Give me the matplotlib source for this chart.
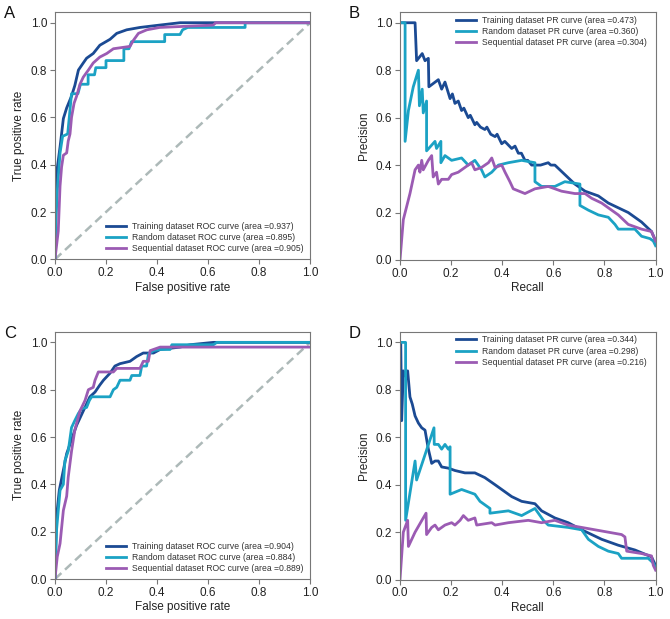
import numpy as np
import matplotlib
matplotlib.use('Agg')
import matplotlib.pyplot as plt

plt.rcParams['font.family'] = ['Liberation Sans', 'DejaVu Sans']

# Farben der drei Datensaetze
c_train = '#1b4a93'
c_rand = '#1ba2c4'
c_seq = '#9b5bb3'
c_diag = '#adb9b8'

# --- Panel A: ROC (oben) ---
a_train_fpr = [0, 0.006, 0.02, 0.033, 0.046, 0.065, 0.078, 0.092, 0.111, 0.124,
               0.15, 0.176, 0.216, 0.242, 0.281, 0.333, 0.41, 0.49, 0.62, 1.0]
a_train_tpr = [0, 0.36, 0.475, 0.595, 0.64, 0.69, 0.735, 0.80, 0.83, 0.85,
               0.87, 0.905, 0.93, 0.955, 0.97, 0.98, 0.99, 1.0, 1.0, 1.0]
a_rand_fpr = [0, 0.005, 0.01, 0.02, 0.03, 0.05, 0.065, 0.09, 0.10, 0.13,
              0.13, 0.155, 0.16, 0.2, 0.2, 0.27, 0.27, 0.29, 0.30, 0.43,
              0.43, 0.49, 0.50, 0.52, 0.745, 0.745, 1.0]
a_rand_tpr = [0, 0.19, 0.3, 0.45, 0.52, 0.53, 0.70, 0.70, 0.74, 0.74,
              0.78, 0.78, 0.81, 0.81, 0.84, 0.84, 0.89, 0.89, 0.92, 0.92,
              0.95, 0.95, 0.97, 0.98, 0.98, 1.0, 1.0]
a_seq_fpr = [0, 0.013, 0.02, 0.026, 0.033, 0.046, 0.052, 0.059, 0.065, 0.075,
             0.085, 0.098, 0.111, 0.131, 0.15, 0.176, 0.203, 0.229, 0.294, 0.307,
             0.327, 0.36, 0.41, 0.62, 0.63, 1.0]
a_seq_tpr = [0, 0.12, 0.31, 0.39, 0.44, 0.45, 0.50, 0.53, 0.60, 0.66,
             0.69, 0.74, 0.77, 0.80, 0.83, 0.855, 0.87, 0.89, 0.90, 0.925,
             0.955, 0.97, 0.98, 0.99, 1.0, 1.0]
a_auc = [0.937, 0.895, 0.905]

# --- Panel B: PR (oben) ---
b_train_rec = [0, 0.059, 0.065, 0.087, 0.098, 0.111, 0.113, 0.15, 0.163, 0.176,
               0.196, 0.205, 0.215, 0.228, 0.241, 0.25, 0.267, 0.275, 0.293, 0.30,
               0.315, 0.332, 0.34, 0.355, 0.372, 0.38, 0.398, 0.41, 0.437, 0.45,
               0.463, 0.475, 0.489, 0.50, 0.515, 0.55, 0.58, 0.59, 0.606, 0.645,
               0.684, 0.724, 0.776, 0.815, 0.893, 0.945, 0.984, 1.0]
b_train_prec = [1.0, 1.0, 0.84, 0.87, 0.84, 0.85, 0.73, 0.76, 0.72, 0.75,
                0.68, 0.70, 0.66, 0.67, 0.63, 0.64, 0.60, 0.61, 0.57, 0.58,
                0.56, 0.55, 0.56, 0.53, 0.52, 0.53, 0.49, 0.50, 0.47, 0.48,
                0.45, 0.45, 0.42, 0.42, 0.40, 0.40, 0.41, 0.40, 0.40, 0.36,
                0.32, 0.29, 0.27, 0.24, 0.20, 0.16, 0.12, 0.08]
b_rand_rec = [0, 0.02, 0.02, 0.033, 0.052, 0.072, 0.076, 0.087, 0.091, 0.104,
              0.104, 0.137, 0.143, 0.16, 0.16, 0.176, 0.202, 0.241, 0.267, 0.293,
              0.319, 0.332, 0.359, 0.385, 0.424, 0.476, 0.528, 0.528, 0.554, 0.606,
              0.645, 0.704, 0.704, 0.737, 0.776, 0.815, 0.841, 0.854, 0.919, 0.945,
              0.978, 0.991, 1.0]
b_rand_prec = [1.0, 1.0, 0.5, 0.63, 0.73, 0.8, 0.65, 0.72, 0.62, 0.67,
               0.46, 0.5, 0.47, 0.5, 0.41, 0.44, 0.42, 0.43, 0.40, 0.42,
               0.38, 0.35, 0.37, 0.40, 0.41, 0.42, 0.41, 0.33, 0.31, 0.31,
               0.33, 0.32, 0.23, 0.21, 0.19, 0.18, 0.15, 0.13, 0.13, 0.10,
               0.09, 0.08, 0.06]
b_seq_rec = [0, 0.013, 0.039, 0.059, 0.072, 0.078, 0.085, 0.091, 0.111, 0.124,
             0.13, 0.143, 0.15, 0.163, 0.189, 0.202, 0.228, 0.254, 0.28, 0.293,
             0.319, 0.346, 0.359, 0.372, 0.398, 0.411, 0.43, 0.443, 0.489, 0.528,
             0.58, 0.632, 0.684, 0.724, 0.75, 0.789, 0.815, 0.854, 0.893, 0.945,
             0.984, 1.0]
b_seq_prec = [0, 0.17, 0.28, 0.38, 0.40, 0.37, 0.42, 0.38, 0.42, 0.44,
              0.35, 0.37, 0.32, 0.34, 0.34, 0.36, 0.37, 0.39, 0.41, 0.38,
              0.39, 0.41, 0.43, 0.39, 0.40, 0.37, 0.33, 0.30, 0.28, 0.30,
              0.31, 0.29, 0.28, 0.28, 0.26, 0.24, 0.22, 0.19, 0.15, 0.13,
              0.12, 0.08]
b_auc = [0.473, 0.360, 0.304]

# --- Panel C: ROC (unten) ---
c_train_fpr = [0, 0.006, 0.017, 0.033, 0.046, 0.059, 0.072, 0.085, 0.098, 0.111,
               0.124, 0.137, 0.157, 0.176, 0.19, 0.216, 0.235, 0.255, 0.294, 0.32,
               0.346, 0.386, 0.412, 0.49, 0.529, 0.621, 1.0]
c_train_tpr = [0, 0.26, 0.375, 0.46, 0.53, 0.57, 0.61, 0.65, 0.68, 0.71,
               0.74, 0.77, 0.79, 0.82, 0.84, 0.87, 0.90, 0.91, 0.92, 0.94,
               0.955, 0.955, 0.97, 0.98, 0.99, 1.0, 1.0]
c_rand_fpr = [0, 0.0065, 0.02, 0.033, 0.039, 0.052, 0.065, 0.078, 0.092, 0.105,
              0.124, 0.135, 0.144, 0.216, 0.229, 0.242, 0.255, 0.294, 0.301, 0.333,
              0.34, 0.359, 0.366, 0.386, 0.412, 0.451, 0.458, 0.621, 0.634, 1.0]
c_rand_tpr = [0, 0.21, 0.375, 0.40, 0.50, 0.54, 0.64, 0.67, 0.70, 0.72,
              0.725, 0.755, 0.77, 0.77, 0.80, 0.81, 0.84, 0.84, 0.86, 0.86,
              0.90, 0.90, 0.95, 0.965, 0.97, 0.97, 0.99, 0.99, 1.0, 1.0]
c_seq_fpr = [0, 0.009, 0.02, 0.033, 0.046, 0.052, 0.065, 0.078, 0.098, 0.118,
             0.131, 0.15, 0.157, 0.17, 0.229, 0.242, 0.333, 0.346, 0.366, 0.373,
             0.412, 1.0]
c_seq_tpr = [0, 0.094, 0.15, 0.29, 0.35, 0.43, 0.54, 0.63, 0.71, 0.755,
             0.80, 0.81, 0.84, 0.875, 0.875, 0.89, 0.89, 0.92, 0.92, 0.965,
             0.98, 0.98]
c_auc = [0.904, 0.884, 0.889]

# --- Panel D: PR (unten) ---
d_train_rec = [0, 0.003, 0.0065, 0.013, 0.026, 0.03, 0.039, 0.048, 0.059, 0.072,
               0.085, 0.098, 0.111, 0.124, 0.137, 0.15, 0.163, 0.189, 0.215, 0.254,
               0.293, 0.332, 0.372, 0.398, 0.437, 0.476, 0.528, 0.554, 0.606, 0.658,
               0.711, 0.789, 0.854, 0.919, 0.984, 1.0]
d_train_prec = [1.0, 1.0, 0.67, 0.88, 0.85, 0.88, 0.77, 0.74, 0.69, 0.66,
                0.64, 0.63, 0.55, 0.49, 0.50, 0.50, 0.475, 0.47, 0.46, 0.45,
                0.45, 0.43, 0.40, 0.38, 0.35, 0.33, 0.32, 0.29, 0.26, 0.24,
                0.21, 0.17, 0.145, 0.125, 0.096, 0.06]
d_rand_rec = [0, 0.0065, 0.022, 0.022, 0.059, 0.065, 0.133, 0.134, 0.15, 0.163,
              0.176, 0.189, 0.196, 0.196, 0.241, 0.293, 0.313, 0.352, 0.352, 0.424,
              0.476, 0.528, 0.561, 0.58, 0.658, 0.711, 0.737, 0.776, 0.815, 0.854,
              0.867, 0.971, 0.991, 1.0]
d_rand_prec = [1.0, 1.0, 1.0, 0.25, 0.50, 0.42, 0.64, 0.57, 0.57, 0.55,
               0.57, 0.55, 0.56, 0.36, 0.38, 0.36, 0.33, 0.30, 0.28, 0.29,
               0.27, 0.30, 0.25, 0.23, 0.22, 0.21, 0.17, 0.14, 0.12, 0.11,
               0.09, 0.09, 0.07, 0.05]
d_seq_rec = [0, 0.013, 0.03, 0.033, 0.059, 0.091, 0.102, 0.104, 0.124, 0.137,
             0.15, 0.176, 0.202, 0.215, 0.235, 0.248, 0.267, 0.293, 0.30, 0.359,
             0.372, 0.424, 0.502, 0.554, 0.606, 0.658, 0.711, 0.763, 0.815, 0.867,
             0.88, 0.887, 0.945, 0.984, 0.991, 1.0]
d_seq_prec = [0, 0.20, 0.25, 0.14, 0.20, 0.26, 0.28, 0.19, 0.22, 0.23,
              0.21, 0.23, 0.24, 0.23, 0.25, 0.27, 0.25, 0.26, 0.23, 0.24,
              0.23, 0.24, 0.25, 0.24, 0.25, 0.23, 0.22, 0.21, 0.20, 0.19,
              0.18, 0.12, 0.11, 0.10, 0.06, 0.04]
d_auc = [0.344, 0.298, 0.216]

ticks = [0.0, 0.2, 0.4, 0.6, 0.8, 1.0]

fig = plt.figure(figsize=(6.7, 6.19), dpi=100)
ax_a = fig.add_axes([0.082, 0.581, 0.381, 0.3995])
ax_b = fig.add_axes([0.597, 0.580, 0.3815, 0.4005])
ax_c = fig.add_axes([0.082, 0.0646, 0.381, 0.3995])
ax_d = fig.add_axes([0.597, 0.0636, 0.3815, 0.4005])


def style_axes(ax, xlabel, ylabel, letter):
    ax.set_xlim(0, 1)
    ax.set_ylim(0, 1.045)
    ax.set_xticks(ticks)
    ax.set_yticks(ticks)
    ax.set_xticklabels(['%.1f' % t for t in ticks])
    ax.set_yticklabels(['%.1f' % t for t in ticks])
    ax.tick_params(direction='out', length=3.5, width=0.8, color='#777777',
                   labelsize=8.5, labelcolor='#222222', pad=2)
    for s in ax.spines.values():
        s.set_color('#777777')
        s.set_linewidth(0.8)
    ax.set_xlabel(xlabel, fontsize=8.5, color='#222222', labelpad=2)
    ax.set_ylabel(ylabel, fontsize=8.5, color='#222222', labelpad=4)
    ax.text(-0.2, 1.025, letter, transform=ax.transAxes, fontsize=12,
            ha='left', va='top', color='#111111')


def legend_axes(ax, loc, anchor):
    leg = ax.legend(loc=loc, bbox_to_anchor=anchor, frameon=False, fontsize=6.2,
                    handlelength=2.3, handletextpad=0.7, labelspacing=0.25,
                    borderpad=0, borderaxespad=0)
    for t in leg.get_texts():
        t.set_color('#333333')


lw = 2.0
dash = (0, (3.5, 2))

# A
ax_a.plot([0, 1], [0, 1], color=c_diag, lw=1.8, ls=dash)
ax_a.plot(a_train_fpr, a_train_tpr, color=c_train, lw=lw,
          label='Training dataset ROC curve (area =%.3f)' % a_auc[0])
ax_a.plot(a_rand_fpr, a_rand_tpr, color=c_rand, lw=lw,
          label='Random dataset ROC curve (area =%.3f)' % a_auc[1])
ax_a.plot(a_seq_fpr, a_seq_tpr, color=c_seq, lw=lw,
          label='Sequential dataset ROC curve (area =%.3f)' % a_auc[2])
style_axes(ax_a, 'False positive rate', 'True positive rate', 'A')
legend_axes(ax_a, 'lower left', (0.2, 0.025))

# B
ax_b.plot(b_train_rec, b_train_prec, color=c_train, lw=lw,
          label='Training dataset PR curve (area =%.3f)' % b_auc[0])
ax_b.plot(b_rand_rec, b_rand_prec, color=c_rand, lw=lw,
          label='Random dataset PR curve (area =%.3f)' % b_auc[1])
ax_b.plot(b_seq_rec, b_seq_prec, color=c_seq, lw=lw,
          label='Sequential dataset PR curve (area =%.3f)' % b_auc[2])
style_axes(ax_b, 'Recall', 'Precision', 'B')
legend_axes(ax_b, 'upper left', (0.22, 0.985))

# C
ax_c.plot([0, 1], [0, 1], color=c_diag, lw=1.8, ls=dash)
ax_c.plot(c_train_fpr, c_train_tpr, color=c_train, lw=lw,
          label='Training dataset ROC curve (area =%.3f)' % c_auc[0])
ax_c.plot(c_rand_fpr, c_rand_tpr, color=c_rand, lw=lw,
          label='Random dataset ROC curve (area =%.3f)' % c_auc[1])
ax_c.plot(c_seq_fpr, c_seq_tpr, color=c_seq, lw=lw,
          label='Sequential dataset ROC curve (area =%.3f)' % c_auc[2])
style_axes(ax_c, 'False positive rate', 'True positive rate', 'C')
legend_axes(ax_c, 'lower left', (0.2, 0.025))

# D
ax_d.plot(d_train_rec, d_train_prec, color=c_train, lw=lw,
          label='Training dataset PR curve (area =%.3f)' % d_auc[0])
ax_d.plot(d_rand_rec, d_rand_prec, color=c_rand, lw=lw,
          label='Random dataset PR curve (area =%.3f)' % d_auc[1])
ax_d.plot(d_seq_rec, d_seq_prec, color=c_seq, lw=lw,
          label='Sequential dataset PR curve (area =%.3f)' % d_auc[2])
style_axes(ax_d, 'Recall', 'Precision', 'D')
legend_axes(ax_d, 'upper left', (0.22, 0.985))

fig.savefig('out.png', dpi=100)
